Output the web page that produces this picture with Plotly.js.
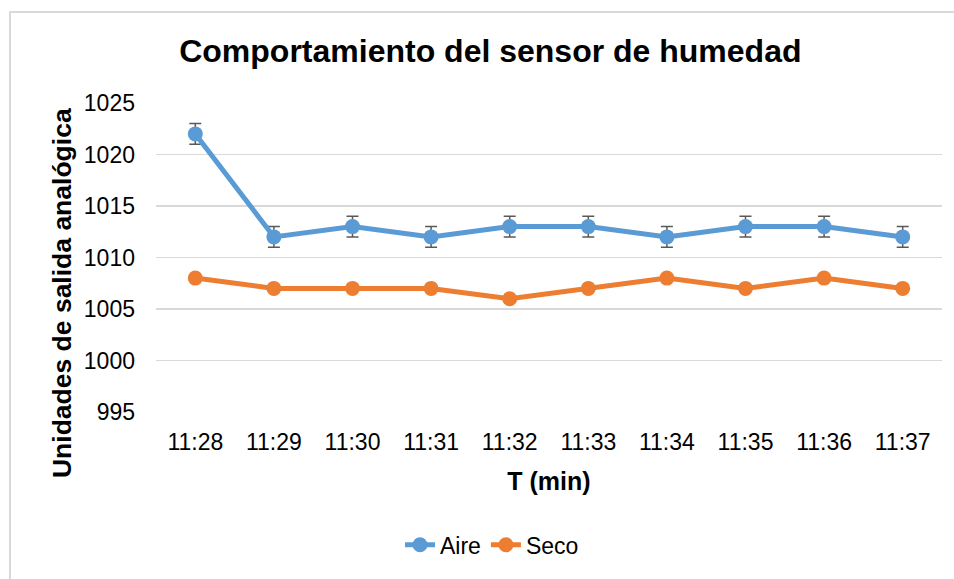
<!DOCTYPE html>
<html>
<head>
<meta charset="utf-8">
<script src="https://cdn.plot.ly/plotly-3.0.1.min.js"></script>
<style>
html,body{margin:0;padding:0;background:#fff;}
#wrap{position:relative;width:954px;height:579px;overflow:hidden;}
#chart{position:absolute;left:0;top:0;width:954px;height:579px;}
#frame{position:absolute;left:9px;top:11px;width:1000px;height:600px;border-top:2px solid #d9d9d9;border-left:2px solid #d9d9d9;pointer-events:none;}
</style>
</head>
<body>
<div id="wrap"><div id="chart"></div><div id="frame"></div></div>
<script>
const times = ["11:28","11:29","11:30","11:31","11:32","11:33","11:34","11:35","11:36","11:37"];
const aire = [1022,1012,1013,1012,1013,1013,1012,1013,1013,1012];
const aireErr = [1,1,1,1,1,1,1,1,1,1];
const seco = [1008,1007,1007,1007,1006,1007,1008,1007,1008,1007];
const yTicks = [995,1000,1005,1010,1015,1020,1025];
const yTitle = "Unidades de salida analógica";

const font = "Liberation Sans, Arial, sans-serif";

const traces = [
  {
    x: times, y: aire, name: "Aire", type: "scatter", mode: "lines+markers",
    line: {color: "#5B9BD5", width: 5},
    marker: {color: "#5B9BD5", size: 15},
    error_y: {type: "data", array: aireErr, visible: true, color: "#595959", thickness: 1.5, width: 6}
  },
  {
    x: times, y: seco, name: "Seco", type: "scatter", mode: "lines+markers",
    line: {color: "#ED7D31", width: 5},
    marker: {color: "#ED7D31", size: 15}
  }
];

const layout = {
  width: 954, height: 579,
  margin: {l: 156, r: 12, t: 103, b: 164},
  paper_bgcolor: "rgba(0,0,0,0)", plot_bgcolor: "rgba(0,0,0,0)",
  font: {family: font, color: "#000"},
  title: {
    text: "<b>Comportamiento del sensor de humedad</b>",
    font: {size: 32, family: font, color: "#000"},
    x: 0.514, xref: "container", xanchor: "center",
    y: 0.912, yref: "container", yanchor: "middle"
  },
  xaxis: {
    type: "category", automargin: false,
    range: [-0.5, times.length - 0.5],
    showgrid: false, zeroline: false, showline: false, ticks: "",
    tickfont: {size: 23, family: font, color: "#000"},
    ticklabelstandoff: 14,
    title: {text: "<b>T (min)</b>", font: {size: 25, family: font, color: "#000"}, standoff: 18}
  },
  yaxis: {
    range: [995, 1025], automargin: false,
    tickvals: yTicks,
    ticktext: yTicks.map(String),
    showgrid: true, gridcolor: "#d9d9d9", gridwidth: 1.5,
    zeroline: false, showline: false, ticks: "",
    tickfont: {size: 23, family: font, color: "#000"},
    ticklabelstandoff: 20
  },
  annotations: [{
    text: "<b>" + yTitle + "</b>", textangle: -90,
    xref: "paper", yref: "paper", x: -0.1196, y: 0.385,
    xanchor: "center", yanchor: "middle", showarrow: false,
    font: {size: 26.5, family: font, color: "#000"}
  }],
  showlegend: true,
  legend: {
    orientation: "h", x: 0.4275, xanchor: "center", y: -0.43, yanchor: "middle",
    font: {size: 23, family: font, color: "#000"},
    bgcolor: "rgba(0,0,0,0)"
  }
};

Plotly.newPlot("chart", traces, layout, {displayModeBar: false, staticPlot: true});
</script>
</body>
</html>
